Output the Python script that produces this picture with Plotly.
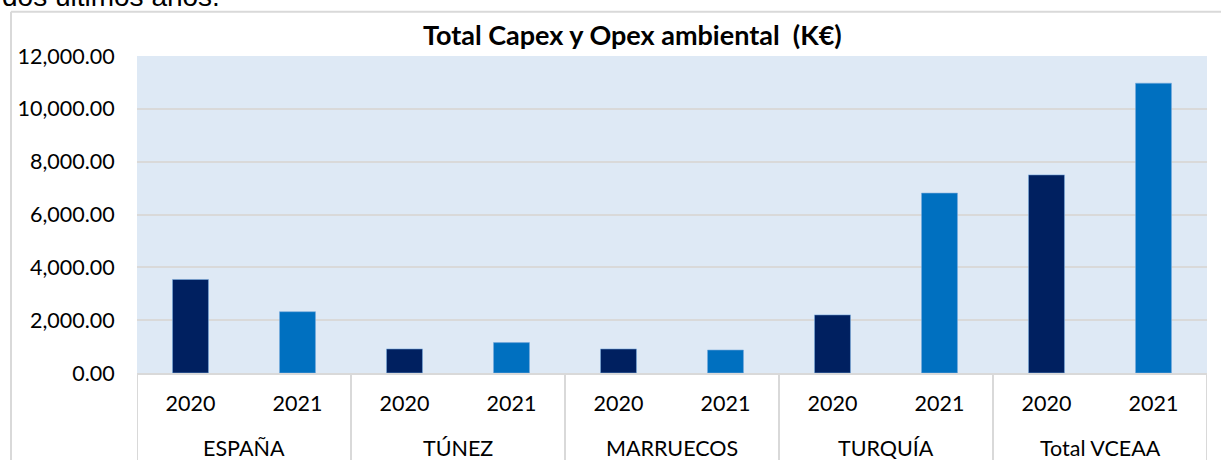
import plotly.graph_objects as go

groups = ["ESPAÑA", "ESPAÑA", "TÚNEZ", "TÚNEZ", "MARRUECOS", "MARRUECOS",
          "TURQUÍA", "TURQUÍA", "Total VCEAA", "Total VCEAA"]
years = ["2020", "2021"] * 5
values = [3540, 2320, 910, 1150, 910, 870, 2200, 6810, 7500, 10970]
year_colors = {"2020": "#002060", "2021": "#0070C0"}
y_ticks = [0, 2000, 4000, 6000, 8000, 10000, 12000]

W, H = 1221, 460
L, R, T, B = 137, 14, 56, 87
pw, ph = W - L - R, H - T - B

def px_x(p):
    return (p - L) / pw

def px_y(p):
    return (H - B - p) / ph

cats = [f"{g} {y}" for g, y in zip(groups, years)]
group_names = list(dict.fromkeys(groups))

fig = go.Figure()
fig.add_trace(go.Bar(
    x=cats,
    y=values,
    marker=dict(color=[year_colors[y] for y in years],
                line=dict(color="rgba(120,170,220,0.6)", width=1)),
    hovertext=[f"{g} {y}" for g, y in zip(groups, years)],
    hoverinfo="text+y",
))

font_main = "Lato, Calibri, Carlito, sans-serif"
tick_size = 21.5

fig.update_layout(
    width=W, height=H, autosize=False,
    margin=dict(l=L, r=R, t=T, b=B, pad=0),
    paper_bgcolor="white",
    plot_bgcolor="#DEE9F5",
    bargap=0.664,
    showlegend=False,
    font=dict(family=font_main, size=tick_size, color="#000000"),
    xaxis=dict(
        type="category",
        tickvals=cats, ticktext=years,
        range=[-0.5, len(cats) - 0.5],
        showgrid=False,
        showline=True, linecolor="#D9D9D9", linewidth=2,
        ticks="outside", ticklen=10, tickcolor="rgba(0,0,0,0)",
        tickfont=dict(family=font_main, size=tick_size, color="#000000"),
        automargin=False,
    ),
    yaxis=dict(
        range=[0, 12000],
        tickvals=y_ticks,
        tickformat=",.2f",
        showgrid=True, gridcolor="#D9D9D9", gridwidth=2,
        zeroline=False,
        showline=False,
        ticks="outside", ticklen=17, tickcolor="rgba(0,0,0,0)",
        tickfont=dict(family=font_main, size=tick_size, color="#000000"),
        automargin=False,
    ),
)

# group labels and dividers below the year labels
for gname in group_names:
    idx = [i for i, g in enumerate(groups) if g == gname]
    center = sum(idx) / len(idx)
    fig.add_annotation(
        text=gname, xref="x", yref="paper", x=center, y=px_y(448),
        xanchor="center", yanchor="middle", showarrow=False,
        font=dict(family=font_main, size=tick_size, color="#000000"),
    )
bounds = [-0.5] + [i + 0.5 for i in range(len(groups) - 1) if groups[i] != groups[i + 1]] + [len(groups) - 0.5]
for b in bounds:
    fig.add_shape(type="line", xref="x", yref="paper",
                  x0=b, x1=b, y0=px_y(373), y1=px_y(470),
                  line=dict(color="#D9D9D9", width=2))

# title
fig.add_annotation(
    text="<b>Total Capex y Opex ambiental\u00a0\u00a0(K€)</b>",
    xref="paper", yref="paper", x=px_x(632), y=px_y(35),
    xanchor="center", yanchor="middle", showarrow=False,
    font=dict(family=font_main, size=27, color="#000000"),
)

# clipped text from the surrounding document
fig.add_annotation(
    text="dos últimos años.",
    xref="paper", yref="paper", x=px_x(0), y=px_y(-4),
    xanchor="left", yanchor="middle", showarrow=False,
    font=dict(family="Liberation Sans, Arial, sans-serif", size=28, color="#000000"),
)

# chart outer border
fig.add_shape(type="line", xref="paper", yref="paper",
              x0=px_x(11), x1=px_x(11), y0=px_y(470), y1=px_y(11.7),
              line=dict(color="#D9D9D9", width=2), layer="below")
fig.add_shape(type="line", xref="paper", yref="paper",
              x0=px_x(11), x1=px_x(1230), y0=px_y(11.7), y1=px_y(11.7),
              line=dict(color="#D9D9D9", width=2), layer="below")

fig.write_html("out.html", config={"displayModeBar": False},
               post_script="document.body.style.margin='0';document.body.style.overflow='hidden';")
